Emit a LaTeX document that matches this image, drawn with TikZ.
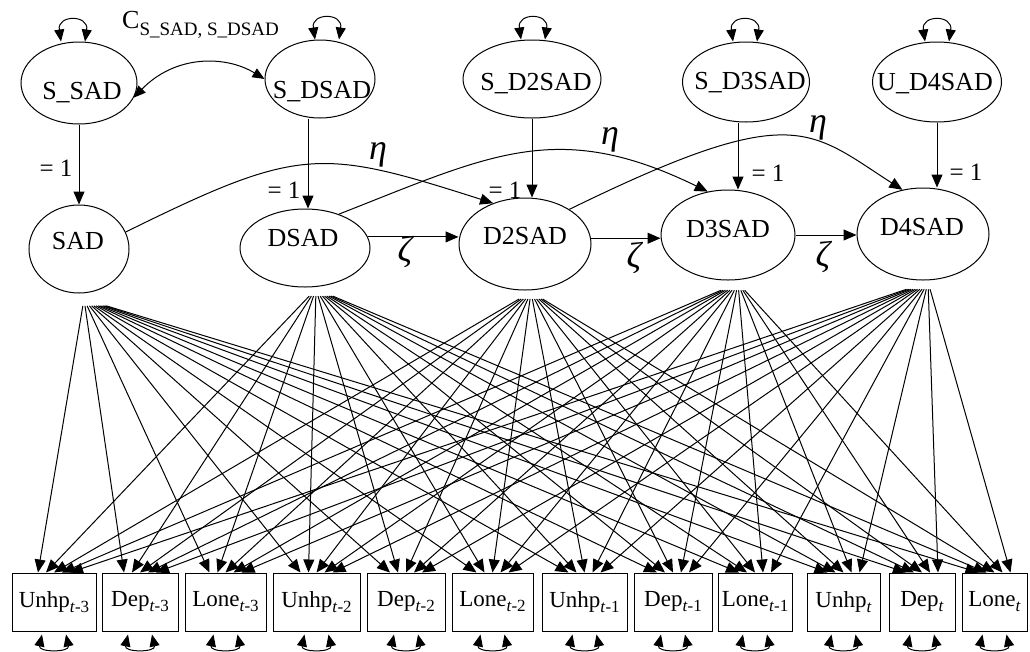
\documentclass[tikz,border=0pt]{standalone}
\usepackage{fontspec}
\setmainfont{Liberation Serif}
\usetikzlibrary{shapes.geometric,arrows.meta,calc}
\newcommand\elfont{\fontsize{26}{30}\selectfont}
\newcommand\bxfont{\fontsize{23}{27}\selectfont}
\newcommand\lsub[1]{\raisebox{-5pt}{\fontsize{17}{17}\selectfont #1}}
\begin{document}
\begin{tikzpicture}[x=1pt,y=-1pt,
  tip/.style={-{Triangle[length=13pt,width=11pt]}},
  dtip/.style={{Triangle[length=12pt,width=10pt]}-{Triangle[length=12pt,width=10pt]}},
  conn/.style={line width=1pt},
  lat/.style={draw, ellipse, inner sep=0pt, line width=1pt},
  obs/.style={draw, rectangle, inner sep=0pt, minimum height=58pt, font=\bxfont, line width=1pt},
  lbl/.style={font=\elfont, text height=17pt, text depth=0pt, inner sep=0pt},
  eqlbl/.style={font=\fontsize{25}{29}\selectfont, inner sep=0pt},
  gr/.style={font=\fontsize{36}{40}\selectfont\itshape, inner sep=0pt},
]
\useasboundingbox (0,0) rectangle (1030,651);

% top latent factors
\node[lat, minimum width=116pt, minimum height=82pt] (tS1) at (79,83) {};
\node[lat, minimum width=110pt, minimum height=78pt] (tS2) at (320,79) {};
\node[lat, minimum width=138pt, minimum height=78pt] (tS3) at (532,79) {};
\node[lat, minimum width=127pt, minimum height=80pt] (tS4) at (746,82) {};
\node[lat, minimum width=129pt, minimum height=80pt] (tS5) at (937,82) {};
\node[lbl] (tS1l) at (82,91) {S\_SAD};
\node[lbl] (tS2l) at (322,90) {S\_DSAD};
\node[lbl] (tS3l) at (536,82) {S\_D2SAD};
\node[lbl] (tS4l) at (750,81) {S\_D3SAD};
\node[lbl] (tS5l) at (935,82) {U\_D4SAD};

% middle latent factors
\node[lat, minimum width=100pt, minimum height=88pt] (f1) at (79,249) {};
\node[lat, minimum width=130pt, minimum height=78pt] (f2) at (305,248) {};
\node[lat, minimum width=132pt, minimum height=92pt] (f3) at (525,244) {};
\node[lat, minimum width=134pt, minimum height=90pt] (f4) at (728,235) {};
\node[lat, minimum width=132pt, minimum height=92pt] (f5) at (923,234) {};
\node[lbl] (f1l) at (78,241) {SAD};
\node[lbl] (f2l) at (303,238) {DSAD};
\node[lbl] (f3l) at (525,236) {D2SAD};
\node[lbl] (f4l) at (728,229) {D3SAD};
\node[lbl] (f5l) at (922,227) {D4SAD};

% observed boxes
\node[obs, minimum width=84pt] (b1) at (54,602) {Unhp\lsub{\textit{t}-3}};
\node[obs, minimum width=76pt] (b2) at (140,602) {Dep\lsub{\textit{t}-3}};
\node[obs, minimum width=81pt] (b3) at (225.5,602) {Lone\lsub{\textit{t}-3}};
\node[obs, minimum width=87pt] (b4) at (316.5,602) {Unhp\lsub{\textit{t}-2}};
\node[obs, minimum width=78pt] (b5) at (406,602) {Dep\lsub{\textit{t}-2}};
\node[obs, minimum width=81pt] (b6) at (492.5,602) {Lone\lsub{\textit{t}-2}};
\node[obs, minimum width=85pt] (b7) at (584.5,602) {Unhp\lsub{\textit{t}-1}};
\node[obs, minimum width=78pt] (b8) at (673,602) {Dep\lsub{\textit{t}-1}};
\node[obs, minimum width=74pt] (b9) at (755,602) {Lone\lsub{\textit{t}-1}};
\node[obs, minimum width=73pt] (b10) at (843.5,602) {Unhp\lsub{\textit{t}}};
\node[obs, minimum width=66pt] (b11) at (922,602) {Dep\lsub{\textit{t}}};
\node[obs, minimum width=65pt] (b12) at (994.5,602) {Lone\lsub{\textit{t}}};

% top variance loops
\foreach \n/\dx in {tS1/-6, tS2/7, tS3/1, tS4/-1, tS5/0} {
  \draw[conn,dtip] ($(\n.north)+(\dx-12,0)$) .. controls +(-4,-27) and +(4,-27) .. ($(\n.north)+(\dx+12,0)$);
}
% bottom residual loops
\foreach \b in {1,...,12} {
  \draw[conn,dtip] ($(b\b.south)+(-12,3)$) .. controls +(-4,18) and +(4,18) .. ($(b\b.south)+(12,3)$);
}

% covariance
\draw[conn,dtip] (tS1.-15) .. controls (175,55) and (225,55) .. (tS2.west);
\node[anchor=base west, inner sep=0pt, font=\elfont] (cl) at (122,28) {C\raisebox{-7pt}{\fontsize{19}{22}\selectfont S\_SAD, S\_DSAD}};

% fixed loadings = 1
\path ($(tS2.south)+(-12,0)$) coordinate (a2);
\path ($(tS4.south)+(-8,0)$) coordinate (a4);
\draw[conn,tip] (tS1.south) -- (tS1.south |- f1.north);
\draw[conn,tip] (a2) -- (a2 |- f2.north);
\draw[conn,tip] (tS3.south) -- (tS3.south |- f3.north);
\draw[conn,tip] (a4) -- (a4 |- f4.north);
\draw[conn,tip] (tS5.south) -- (tS5.south |- f5.north);
\node[eqlbl] (e1) at (56,168) {= 1};
\node[eqlbl] (e2) at (284,190) {= 1};
\node[eqlbl] (e3) at (505,190) {= 1};
\node[eqlbl] (e4) at (768,173) {= 1};
\node[eqlbl] (e5) at (966,172) {= 1};

% eta paths
\draw[conn,tip] (f1.20) .. controls (300,146) and (320,148) .. (f3.128);
\draw[conn,tip] (f2.45) .. controls (490,155) and (557,118) .. (f4.115);
\draw[conn,tip] (f3.38) .. controls (793,100) and (808,129) .. (f5.115);
\node[gr] (h1) at (378,155) {η};
\node[gr] (h2) at (610,140) {η};
\node[gr] (h3) at (818,128) {η};

% zeta paths
\draw[conn,tip] (f2.10) -- (f2.10 -| f3.west);
\draw[conn,tip] (f3.5) -- (f3.5 -| f4.west);
\draw[conn,tip] (f4.east) -- (f4.east -| f5.west);
\node[gr] (z1) at (405,252) {ζ};
\node[gr] (z2) at (634,258) {ζ};
\node[gr] (z3) at (823,257) {ζ};

% loadings
\coordinate (c1) at (84,299);
\coordinate (c2) at (316,289);
\coordinate (c3) at (531,292);
\coordinate (c4) at (738,283);
\coordinate (c5) at (928,282);
\foreach \f in {1,...,5} {
  \foreach \b in {1,...,12} {
    \coordinate (t) at ($(b\b.north)+({(\f-3)*8},0)$);
    \draw[conn,tip] ($(c\f)!0.025!(t)$) -- (t);
  }
}
\end{tikzpicture}
\end{document}
